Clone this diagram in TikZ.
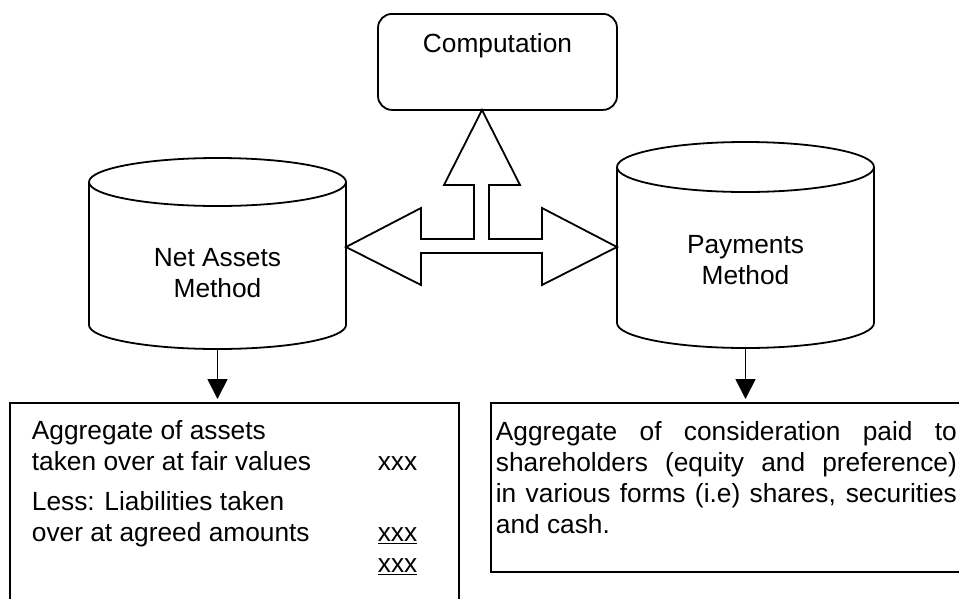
\documentclass[tikz,border=0pt]{standalone}
\usepackage{fontspec}
\setmainfont{Liberation Sans}
\usetikzlibrary{arrows.meta}

\begin{document}
\begin{tikzpicture}[
        x=1pt, y=-1pt, % ось y вниз
        line width=1.8pt,
        font=\fontsize{26.3}{31}\selectfont,
        compbox/.style={draw, rounded corners=14pt, minimum width=239pt, inner xsep=0pt, inner ysep=0pt, text height=39pt, text depth=57pt},
        cylname/.style={align=center, inner sep=0pt}, % подписи цилиндров
        shell/.style={draw, rectangle, inner sep=0pt}, % рамки внизу
        note/.style={anchor=north west, inner sep=0pt},
        flow/.style={-{Triangle[length=20pt, width=20pt]}, shorten >=3pt},
    ]

    \useasboundingbox (0,0) rectangle (959,598);
    \clip (0,0) rectangle (959,598);

    \node[compbox, anchor=north] (comp) at (497.5,13) {Computation};

    % левый цилиндр
    \draw (89,182) -- (89,325) arc[start angle=180, end angle=360, x radius=128.5pt, y radius=24pt] -- (346,182);
    \draw (217.5,182) ellipse [x radius=128.5pt, y radius=24pt];
    \node[cylname] (netm) at (217.5,273.5) {Net Assets\\Method};
    \coordinate (netbot) at (217.5,349);

    % правый цилиндр
    \draw (617,167) -- (617,323) arc[start angle=180, end angle=360, x radius=128.5pt, y radius=25pt] -- (874,167);
    \draw (745.5,167) ellipse [x radius=128.5pt, y radius=25pt];
    \node[cylname] (paym) at (745.5,260.5) {Payments\\Method};
    \coordinate (paybot) at (745.5,348);

    % стрелка на три стороны
    \draw[line join=miter] (346,247) -- (421,208) -- (421,239) -- (474,239) -- (474,185) -- (444,185)
        -- (482,110) -- (520,185) -- (489,185) -- (489,239) -- (542,239) -- (542,208) -- (617,247)
        -- (542,285) -- (542,253) -- (421,253) -- (421,285) -- cycle;

    \node[shell, minimum width=449pt, minimum height=230pt, anchor=north west] (netbox) at (9,402) {};
    \node[shell, minimum width=500pt, minimum height=169pt, anchor=north west] (paybox) at (490,402) {};

    \node[note] (nettab) at (31,417.3) {\begin{tabular}{@{}p{346pt}@{}l@{}}
            Aggregate of assets & \\
            taken over at fair values & xxx \\[9pt]
            Less: Liabilities taken & \\
            over at agreed amounts & \underline{xxx} \\
            & \underline{xxx}
        \end{tabular}};

    \node[note, text width=461pt, align=justify] (paytext) at (495,421) {\tolerance=10000 Aggregate of consideration paid to\linebreak shareholders (equity and preference)\linebreak in various forms (i.e) shares, securities\linebreak and cash.};

    \draw[flow] (netbot) -- (netbot |- netbox.north);
    \draw[flow] (paybot) -- (paybot |- paybox.north);

\end{tikzpicture}
\end{document}
